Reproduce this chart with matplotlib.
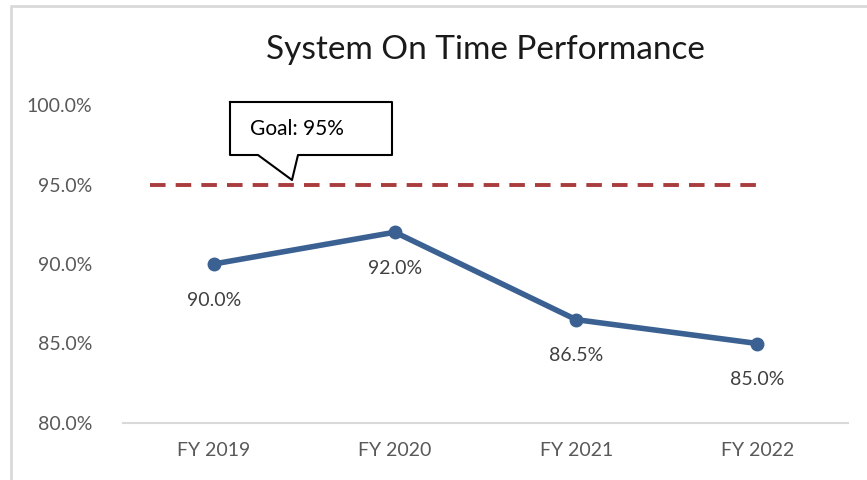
import matplotlib.pyplot as plt
from matplotlib.lines import Line2D
from matplotlib.ticker import FuncFormatter

years = ["FY 2019", "FY 2020", "FY 2021", "FY 2022"]
otp = [90.0, 92.0, 86.5, 85.0]
goal = 95.0
yticks = [80, 85, 90, 95, 100]

plt.rcParams['font.family'] = ['Lato', 'DejaVu Sans']

fig = plt.figure(figsize=(8.67, 4.8), dpi=100)
ax = fig.add_axes([123/867, 57/480, 725/867, 318/480])

xs = list(range(len(years)))
ax.plot(xs, otp, color='#3a6192', lw=4, marker='o', ms=9, solid_capstyle='round', zorder=3)
ax.hlines(goal, -0.35, 3.03, colors='#a93d3d', linestyles=(0, (4, 2.6)), lw=2.8, zorder=2)

# data labels below points
for x, v in zip(xs, otp):
    ax.annotate(f"{v:.1f}%", (x, v), xytext=(0, -26), textcoords='offset points',
                ha='center', va='center', fontsize=14, color='#404040')

ax.set_xlim(-0.5, 3.5)
ax.set_ylim(80, 100)
ax.set_yticks(yticks)
ax.yaxis.set_major_formatter(FuncFormatter(lambda v, p: f"{v:.1f}%"))
ax.set_xticks(xs)
ax.set_xticklabels(years)
ax.tick_params(length=0, labelsize=14, labelcolor='#595959')
ax.tick_params(axis='x', pad=14)
ax.tick_params(axis='y', pad=22)
for s in ['top', 'right', 'left']:
    ax.spines[s].set_visible(False)
ax.spines['bottom'].set_color('#d9d9d9')
ax.spines['bottom'].set_linewidth(1.5)

fig.text(485/867, 1 - 50/480, "System On Time Performance", ha='center', va='center',
         fontsize=24, color='#1a1a1a')

# callout box for the goal
box_x = [230, 392, 392, 298, 292, 258, 230, 230]
box_y = [102, 102, 155, 155, 180, 155, 155, 102]
fig.add_artist(Line2D([v/867 for v in box_x], [1 - v/480 for v in box_y],
                      color='black', lw=1.5, transform=fig.transFigure))
fig.patches.append(plt.Polygon(list(zip([v/867 for v in box_x], [1 - v/480 for v in box_y])),
                               closed=True, facecolor='white', edgecolor='none',
                               transform=fig.transFigure, zorder=1, figure=fig))
fig.text(297/867, 1 - 129/480, "Goal: 95%", ha='center', va='center', fontsize=15, color='black')

# chart border (left and top)
fig.add_artist(Line2D([11/867, 11/867, 1], [0, 1 - 6/480, 1 - 6/480],
                      color='#d9d9d9', lw=2, transform=fig.transFigure))

fig.savefig("out.png", dpi=100)
